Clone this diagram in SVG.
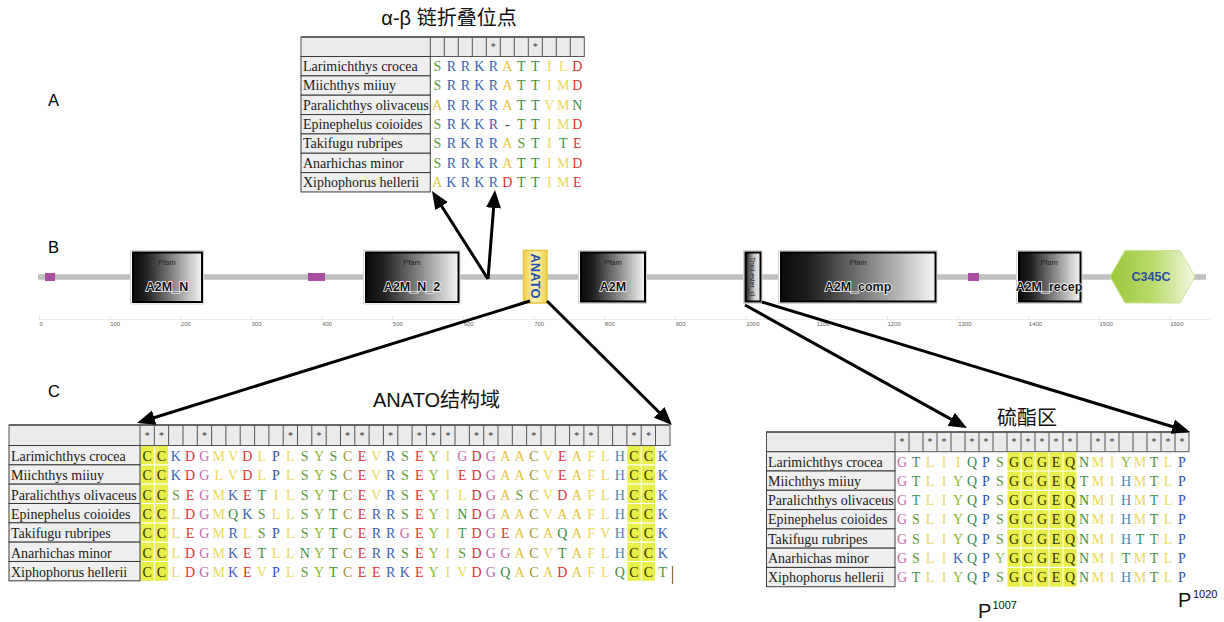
<svg xmlns="http://www.w3.org/2000/svg" width="1224" height="622" viewBox="0 0 1224 622">
<style>
.nm{font-family:"Liberation Serif",serif;font-size:14px;fill:#1a1a1a}
.aa{font-family:"Liberation Serif",serif;font-size:14px;text-anchor:middle}
.st{font-family:"Liberation Serif",serif;font-size:10px;fill:#333;text-anchor:middle}
.ttl{font-family:"Liberation Sans","Noto Sans CJK SC",sans-serif;font-size:20px;fill:#111}
.lbl{font-family:"Liberation Sans",sans-serif;font-size:16.5px;fill:#000}
.pf{font-family:"Liberation Sans",sans-serif;font-size:7.5px;fill:#222;text-anchor:middle}
.dn{font-family:"Liberation Sans",sans-serif;font-size:12.5px;font-weight:bold;fill:#111;text-anchor:middle;stroke:#fff;stroke-width:1.5;paint-order:stroke}
.ax{font-family:"Liberation Sans",sans-serif;font-size:6px;fill:#666}
.ncell{fill:#efefef;stroke:#3a3a3a;stroke-width:1}
.hcell{fill:#ebebeb;stroke:#555;stroke-width:1}
.sep{stroke:#555;stroke-width:1;fill:none}
.wsep{stroke:#fff;stroke-width:1.2;fill:none}
.hl{fill:#e8ee4a}
.outer{fill:#fff;stroke:#d4d4d4;stroke-width:1}
.inner{fill:url(#dg);stroke:#000;stroke-width:2}
.conn{stroke:#000;stroke-width:3;fill:none;marker-end:url(#ah)}
.A{fill:#e4c43c}.V,.I,.L,.M,.F{fill:#ecd85a}
.S{fill:#5e9a3c}.T{fill:#3f8f3f}.N{fill:#3a9040}.Q{fill:#3a8a4c}
.R,.K{fill:#3b5fb5}.P{fill:#3050b0}.D,.E{fill:#e03232}.G{fill:#c468a8}
.C{fill:#a09030}.Y{fill:#8cba30}.H{fill:#4a86a8}.gp{fill:#444}.h{fill:#333300}
</style>
<defs>
<linearGradient id="dg" x1="0" x2="1" y1="0" y2="0"><stop offset="0" stop-color="#0a0a0a"/><stop offset="0.2" stop-color="#222"/><stop offset="1" stop-color="#f6f6f6"/></linearGradient>
<linearGradient id="ag" x1="0" x2="1" y1="0" y2="0"><stop offset="0" stop-color="#f0cf48"/><stop offset="0.5" stop-color="#fff4b8"/><stop offset="1" stop-color="#f0cf48"/></linearGradient>
<linearGradient id="cg" x1="0" x2="1" y1="0" y2="0"><stop offset="0" stop-color="#9ac838"/><stop offset="0.5" stop-color="#b8da6a"/><stop offset="1" stop-color="#f2f8e2"/></linearGradient>
<linearGradient id="tg" x1="0" x2="1" y1="0" y2="0"><stop offset="0" stop-color="#111"/><stop offset="0.6" stop-color="#cfcfcf"/><stop offset="1" stop-color="#eee"/></linearGradient>
<marker id="ah" markerUnits="userSpaceOnUse" markerWidth="18" markerHeight="15" refX="13" refY="7.5" orient="auto"><path d="M0 0L18 7.5L0 15Z" fill="#000"/></marker>
</defs>
<rect width="1224" height="622" fill="#fff"/>

<text class="lbl" x="48" y="106">A</text>
<text class="lbl" x="48" y="253">B</text>
<text class="lbl" x="48" y="397">C</text>

<g id="axis">
<path d="M39 319.5H1210" stroke="#ececec" stroke-width="1"/>
<path d="M39.5 316V320M110.2 316V320M180.8 316V320M251.5 316V320M322.2 316V320M392.8 316V320M463.5 316V320M534.2 316V320M604.8 316V320M675.5 316V320M746.2 316V320M816.8 316V320M887.5 316V320M958.2 316V320M1028.8 316V320M1099.5 316V320M1170.2 316V320" stroke="#e2e2e2" stroke-width="1"/>
<text class="ax" y="326"><tspan x="39.5">0</tspan><tspan x="110.2">100</tspan><tspan x="180.8">200</tspan><tspan x="251.5">300</tspan><tspan x="322.2">400</tspan><tspan x="392.8">500</tspan><tspan x="463.5">600</tspan><tspan x="534.2">700</tspan><tspan x="604.8">800</tspan><tspan x="675.5">900</tspan><tspan x="746.2">1000</tspan><tspan x="816.8">1100</tspan><tspan x="887.5">1200</tspan><tspan x="958.2">1300</tspan><tspan x="1028.8">1400</tspan><tspan x="1099.5">1500</tspan><tspan x="1170.2">1600</tspan></text>
</g>

<g id="backbone">
<path d="M38 277H1206" stroke="#bfbfbf" stroke-width="5.5"/>
<rect x="45" y="273" width="10" height="8" fill="#a8509f"/>
<rect x="308" y="273" width="17" height="8" fill="#a8509f"/>
<rect x="968" y="273" width="11" height="8" fill="#a8509f"/>
</g>

<g id="domain-A2M_N">
<rect class="outer" x="130.5" y="250.5" width="73" height="53.5"/>
<rect class="inner" x="133" y="252.5" width="69" height="49.5"/>
<text class="pf" x="167" y="265">Pfam</text>
<text class="dn" x="167" y="291">A2M_N</text>
</g>
<g id="domain-A2M_N_2">
<rect class="outer" x="363.5" y="250.5" width="96.5" height="53.5"/>
<rect class="inner" x="366" y="252.5" width="92.5" height="49.5"/>
<text class="pf" x="412" y="265">Pfam</text>
<text class="dn" x="412" y="291">A2M_N_2</text>
</g>
<g id="domain-ANATO">
<rect x="523.5" y="250.5" width="23.5" height="52.5" fill="url(#ag)" stroke="#e6c440" stroke-width="1.5"/>
<text transform="translate(530.5 276) rotate(90)" text-anchor="middle" font-family="Liberation Sans, sans-serif" font-size="13" font-weight="bold" fill="#2050b0">ANATO</text>
</g>
<g id="domain-A2M">
<rect class="outer" x="578.5" y="250.5" width="68" height="53"/>
<rect class="inner" x="581" y="252.5" width="64" height="49"/>
<text class="pf" x="613" y="265">Pfam</text>
<text class="dn" x="613" y="291">A2M</text>
</g>
<g id="domain-Thiol-ester_cl">
<rect class="outer" x="743.5" y="250.5" width="18.5" height="53"/>
<rect x="745.5" y="252.5" width="15" height="49" fill="url(#tg)" stroke="#000" stroke-width="2"/>
<text transform="translate(750 276.5) rotate(90)" text-anchor="middle" font-family="Liberation Sans, sans-serif" font-size="6.5" fill="#111">Thiol-ester_cl</text>
</g>
<g id="domain-A2M_comp">
<rect class="outer" x="778.5" y="250.5" width="158.5" height="53"/>
<rect class="inner" x="781" y="252.5" width="154.5" height="49"/>
<text class="pf" x="858" y="265">Pfam</text>
<text class="dn" x="858" y="291">A2M_comp</text>
</g>
<g id="domain-A2M_recep">
<rect class="outer" x="1016.5" y="250.5" width="65.5" height="53"/>
<rect class="inner" x="1019" y="252.5" width="61.5" height="49"/>
<text class="pf" x="1049" y="265">Pfam</text>
<text class="dn" x="1049" y="291">A2M_recep</text>
</g>
<g id="domain-C345C">
<polygon points="1110,276.5 1125,250.5 1180,250.5 1195,276.5 1180,303 1125,303" fill="url(#cg)" stroke="#cde39a" stroke-width="1"/>
<text x="1151" y="281" text-anchor="middle" font-family="Liberation Sans, sans-serif" font-size="12.5" font-weight="bold" fill="#2a4aa0">C345C</text>
</g>

<g id="table-alpha-beta">
<text class="ttl" x="449" y="25" text-anchor="middle">α-β 链折叠位点</text>
<rect class="hcell" x="301" y="37" width="283.3" height="19.5"/>
<path d="M301 37H584.3" stroke="#666" stroke-width="2"/>
<path class="sep" d="M430.3 37V56.5M444.3 37V56.5M458.3 37V56.5M472.3 37V56.5M486.3 37V56.5M500.3 37V56.5M514.3 37V56.5M528.3 37V56.5M542.3 37V56.5M556.3 37V56.5M570.3 37V56.5"/>
<text class="st" x="493.3 535.3" y="50">**</text>
<rect class="ncell" x="301" y="56.5" width="129.3" height="19.35"/>
<rect class="ncell" x="301" y="75.85" width="129.3" height="19.35"/>
<rect class="ncell" x="301" y="95.2" width="129.3" height="19.35"/>
<rect class="ncell" x="301" y="114.55" width="129.3" height="19.35"/>
<rect class="ncell" x="301" y="133.9" width="129.3" height="19.35"/>
<rect class="ncell" x="301" y="153.25" width="129.3" height="19.35"/>
<rect class="ncell" x="301" y="172.6" width="129.3" height="19.35"/>
<text class="nm" x="303" y="71">Larimichthys crocea</text>
<text class="nm" x="303" y="90.35">Miichthys miiuy</text>
<text class="nm" x="303" y="109.7">Paralichthys olivaceus</text>
<text class="nm" x="303" y="129.05">Epinephelus coioides</text>
<text class="nm" x="303" y="148.4">Takifugu rubripes</text>
<text class="nm" x="303" y="167.75">Anarhichas minor</text>
<text class="nm" x="303" y="187.1">Xiphophorus hellerii</text>
<text class="aa" y="71" x="437.3 451.3 465.3 479.3 493.3 507.3 521.3 535.3 549.3 563.3 577.3"><tspan class="S">S</tspan><tspan class="R">R</tspan><tspan class="R">R</tspan><tspan class="K">K</tspan><tspan class="R">R</tspan><tspan class="A">A</tspan><tspan class="T">T</tspan><tspan class="T">T</tspan><tspan class="I">I</tspan><tspan class="L">L</tspan><tspan class="D">D</tspan></text>
<text class="aa" y="90.35" x="437.3 451.3 465.3 479.3 493.3 507.3 521.3 535.3 549.3 563.3 577.3"><tspan class="S">S</tspan><tspan class="R">R</tspan><tspan class="R">R</tspan><tspan class="K">K</tspan><tspan class="R">R</tspan><tspan class="A">A</tspan><tspan class="T">T</tspan><tspan class="T">T</tspan><tspan class="I">I</tspan><tspan class="M">M</tspan><tspan class="D">D</tspan></text>
<text class="aa" y="109.7" x="437.3 451.3 465.3 479.3 493.3 507.3 521.3 535.3 549.3 563.3 577.3"><tspan class="A">A</tspan><tspan class="R">R</tspan><tspan class="R">R</tspan><tspan class="K">K</tspan><tspan class="R">R</tspan><tspan class="A">A</tspan><tspan class="T">T</tspan><tspan class="T">T</tspan><tspan class="V">V</tspan><tspan class="M">M</tspan><tspan class="N">N</tspan></text>
<text class="aa" y="129.05" x="437.3 451.3 465.3 479.3 493.3 507.3 521.3 535.3 549.3 563.3 577.3"><tspan class="S">S</tspan><tspan class="R">R</tspan><tspan class="K">K</tspan><tspan class="K">K</tspan><tspan class="R">R</tspan><tspan class="gp">-</tspan><tspan class="T">T</tspan><tspan class="T">T</tspan><tspan class="I">I</tspan><tspan class="M">M</tspan><tspan class="D">D</tspan></text>
<text class="aa" y="148.4" x="437.3 451.3 465.3 479.3 493.3 507.3 521.3 535.3 549.3 563.3 577.3"><tspan class="S">S</tspan><tspan class="R">R</tspan><tspan class="K">K</tspan><tspan class="R">R</tspan><tspan class="R">R</tspan><tspan class="A">A</tspan><tspan class="S">S</tspan><tspan class="T">T</tspan><tspan class="I">I</tspan><tspan class="T">T</tspan><tspan class="E">E</tspan></text>
<text class="aa" y="167.75" x="437.3 451.3 465.3 479.3 493.3 507.3 521.3 535.3 549.3 563.3 577.3"><tspan class="S">S</tspan><tspan class="R">R</tspan><tspan class="R">R</tspan><tspan class="K">K</tspan><tspan class="R">R</tspan><tspan class="A">A</tspan><tspan class="T">T</tspan><tspan class="T">T</tspan><tspan class="I">I</tspan><tspan class="M">M</tspan><tspan class="D">D</tspan></text>
<text class="aa" y="187.1" x="437.3 451.3 465.3 479.3 493.3 507.3 521.3 535.3 549.3 563.3 577.3"><tspan class="A">A</tspan><tspan class="K">K</tspan><tspan class="R">R</tspan><tspan class="K">K</tspan><tspan class="R">R</tspan><tspan class="D">D</tspan><tspan class="T">T</tspan><tspan class="T">T</tspan><tspan class="I">I</tspan><tspan class="M">M</tspan><tspan class="E">E</tspan></text>
</g>

<g id="table-anato">
<text class="ttl" x="373" y="406.5">ANATO结构域</text>
<rect class="hcell" x="9" y="425" width="661" height="20.5"/>
<path d="M9 425H670" stroke="#666" stroke-width="2"/>
<path class="sep" d="M140 425V445.5M154.3 425V445.5M168.6 425V445.5M183 425V445.5M197.3 425V445.5M211.6 425V445.5M225.9 425V445.5M240.2 425V445.5M254.6 425V445.5M268.9 425V445.5M283.2 425V445.5M297.5 425V445.5M311.8 425V445.5M326.2 425V445.5M340.5 425V445.5M354.8 425V445.5M369.1 425V445.5M383.4 425V445.5M397.8 425V445.5M412.1 425V445.5M426.4 425V445.5M440.7 425V445.5M455 425V445.5M469.4 425V445.5M483.7 425V445.5M498 425V445.5M512.3 425V445.5M526.6 425V445.5M541 425V445.5M555.3 425V445.5M569.6 425V445.5M583.9 425V445.5M598.2 425V445.5M612.6 425V445.5M626.9 425V445.5M641.2 425V445.5M655.5 425V445.5"/>
<text class="st" y="438.5" x="147.2 161.5 204.4 290.4 319 347.6 362 390.6 419.2 433.6 447.9 476.5 490.8 533.8 576.8 591.1 634 648.4">******************</text>
<rect class="hl" x="140.5" y="446" width="13.3" height="134.8"/>
<rect class="hl" x="154.8" y="446" width="13.3" height="134.8"/>
<rect class="hl" x="627.4" y="446" width="13.3" height="134.8"/>
<rect class="hl" x="641.7" y="446" width="13.3" height="134.8"/>
<path class="wsep" d="M140 464.8H670M140 484.2H670M140 503.5H670M140 522.8H670M140 542.2H670M140 561.5H670"/>
<path d="M672.5 566V584" stroke="#8a6a3a" stroke-width="1.2"/>
<rect class="ncell" x="9" y="445.5" width="131" height="19.33"/>
<rect class="ncell" x="9" y="464.83" width="131" height="19.33"/>
<rect class="ncell" x="9" y="484.16" width="131" height="19.33"/>
<rect class="ncell" x="9" y="503.49" width="131" height="19.33"/>
<rect class="ncell" x="9" y="522.82" width="131" height="19.33"/>
<rect class="ncell" x="9" y="542.15" width="131" height="19.33"/>
<rect class="ncell" x="9" y="561.48" width="131" height="19.33"/>
<text class="nm" x="11" y="460.8">Larimichthys crocea</text>
<text class="nm" x="11" y="480.1">Miichthys miiuy</text>
<text class="nm" x="11" y="499.5">Paralichthys olivaceus</text>
<text class="nm" x="11" y="518.8">Epinephelus coioides</text>
<text class="nm" x="11" y="538.1">Takifugu rubripes</text>
<text class="nm" x="11" y="557.5">Anarhichas minor</text>
<text class="nm" x="11" y="576.8">Xiphophorus hellerii</text>
<text class="aa" y="460.8" x="147.2 161.5 175.8 190.1 204.4 218.8 233.1 247.4 261.7 276 290.4 304.7 319 333.3 347.6 362 376.3 390.6 404.9 419.2 433.6 447.9 462.2 476.5 490.8 505.2 519.5 533.8 548.1 562.4 576.8 591.1 605.4 619.7 634 648.4 662.7"><tspan class="h">C</tspan><tspan class="h">C</tspan><tspan class="K">K</tspan><tspan class="D">D</tspan><tspan class="G">G</tspan><tspan class="M">M</tspan><tspan class="V">V</tspan><tspan class="D">D</tspan><tspan class="L">L</tspan><tspan class="P">P</tspan><tspan class="L">L</tspan><tspan class="S">S</tspan><tspan class="Y">Y</tspan><tspan class="S">S</tspan><tspan class="C">C</tspan><tspan class="E">E</tspan><tspan class="V">V</tspan><tspan class="R">R</tspan><tspan class="S">S</tspan><tspan class="E">E</tspan><tspan class="Y">Y</tspan><tspan class="I">I</tspan><tspan class="G">G</tspan><tspan class="D">D</tspan><tspan class="G">G</tspan><tspan class="A">A</tspan><tspan class="A">A</tspan><tspan class="C">C</tspan><tspan class="V">V</tspan><tspan class="E">E</tspan><tspan class="A">A</tspan><tspan class="F">F</tspan><tspan class="L">L</tspan><tspan class="H">H</tspan><tspan class="h">C</tspan><tspan class="h">C</tspan><tspan class="K">K</tspan></text>
<text class="aa" y="480.1" x="147.2 161.5 175.8 190.1 204.4 218.8 233.1 247.4 261.7 276 290.4 304.7 319 333.3 347.6 362 376.3 390.6 404.9 419.2 433.6 447.9 462.2 476.5 490.8 505.2 519.5 533.8 548.1 562.4 576.8 591.1 605.4 619.7 634 648.4 662.7"><tspan class="h">C</tspan><tspan class="h">C</tspan><tspan class="K">K</tspan><tspan class="D">D</tspan><tspan class="G">G</tspan><tspan class="L">L</tspan><tspan class="V">V</tspan><tspan class="D">D</tspan><tspan class="L">L</tspan><tspan class="P">P</tspan><tspan class="L">L</tspan><tspan class="S">S</tspan><tspan class="Y">Y</tspan><tspan class="S">S</tspan><tspan class="C">C</tspan><tspan class="E">E</tspan><tspan class="V">V</tspan><tspan class="R">R</tspan><tspan class="S">S</tspan><tspan class="E">E</tspan><tspan class="Y">Y</tspan><tspan class="I">I</tspan><tspan class="E">E</tspan><tspan class="D">D</tspan><tspan class="G">G</tspan><tspan class="A">A</tspan><tspan class="A">A</tspan><tspan class="C">C</tspan><tspan class="V">V</tspan><tspan class="E">E</tspan><tspan class="A">A</tspan><tspan class="F">F</tspan><tspan class="L">L</tspan><tspan class="H">H</tspan><tspan class="h">C</tspan><tspan class="h">C</tspan><tspan class="K">K</tspan></text>
<text class="aa" y="499.5" x="147.2 161.5 175.8 190.1 204.4 218.8 233.1 247.4 261.7 276 290.4 304.7 319 333.3 347.6 362 376.3 390.6 404.9 419.2 433.6 447.9 462.2 476.5 490.8 505.2 519.5 533.8 548.1 562.4 576.8 591.1 605.4 619.7 634 648.4 662.7"><tspan class="h">C</tspan><tspan class="h">C</tspan><tspan class="S">S</tspan><tspan class="E">E</tspan><tspan class="G">G</tspan><tspan class="M">M</tspan><tspan class="K">K</tspan><tspan class="E">E</tspan><tspan class="T">T</tspan><tspan class="I">I</tspan><tspan class="L">L</tspan><tspan class="S">S</tspan><tspan class="Y">Y</tspan><tspan class="T">T</tspan><tspan class="C">C</tspan><tspan class="E">E</tspan><tspan class="V">V</tspan><tspan class="R">R</tspan><tspan class="S">S</tspan><tspan class="E">E</tspan><tspan class="Y">Y</tspan><tspan class="I">I</tspan><tspan class="L">L</tspan><tspan class="D">D</tspan><tspan class="G">G</tspan><tspan class="A">A</tspan><tspan class="S">S</tspan><tspan class="C">C</tspan><tspan class="V">V</tspan><tspan class="D">D</tspan><tspan class="A">A</tspan><tspan class="F">F</tspan><tspan class="L">L</tspan><tspan class="H">H</tspan><tspan class="h">C</tspan><tspan class="h">C</tspan><tspan class="K">K</tspan></text>
<text class="aa" y="518.8" x="147.2 161.5 175.8 190.1 204.4 218.8 233.1 247.4 261.7 276 290.4 304.7 319 333.3 347.6 362 376.3 390.6 404.9 419.2 433.6 447.9 462.2 476.5 490.8 505.2 519.5 533.8 548.1 562.4 576.8 591.1 605.4 619.7 634 648.4 662.7"><tspan class="h">C</tspan><tspan class="h">C</tspan><tspan class="L">L</tspan><tspan class="D">D</tspan><tspan class="G">G</tspan><tspan class="M">M</tspan><tspan class="Q">Q</tspan><tspan class="K">K</tspan><tspan class="S">S</tspan><tspan class="L">L</tspan><tspan class="L">L</tspan><tspan class="S">S</tspan><tspan class="Y">Y</tspan><tspan class="T">T</tspan><tspan class="C">C</tspan><tspan class="E">E</tspan><tspan class="R">R</tspan><tspan class="R">R</tspan><tspan class="S">S</tspan><tspan class="E">E</tspan><tspan class="Y">Y</tspan><tspan class="I">I</tspan><tspan class="N">N</tspan><tspan class="D">D</tspan><tspan class="G">G</tspan><tspan class="A">A</tspan><tspan class="A">A</tspan><tspan class="C">C</tspan><tspan class="V">V</tspan><tspan class="A">A</tspan><tspan class="A">A</tspan><tspan class="F">F</tspan><tspan class="L">L</tspan><tspan class="H">H</tspan><tspan class="h">C</tspan><tspan class="h">C</tspan><tspan class="K">K</tspan></text>
<text class="aa" y="538.1" x="147.2 161.5 175.8 190.1 204.4 218.8 233.1 247.4 261.7 276 290.4 304.7 319 333.3 347.6 362 376.3 390.6 404.9 419.2 433.6 447.9 462.2 476.5 490.8 505.2 519.5 533.8 548.1 562.4 576.8 591.1 605.4 619.7 634 648.4 662.7"><tspan class="h">C</tspan><tspan class="h">C</tspan><tspan class="L">L</tspan><tspan class="E">E</tspan><tspan class="G">G</tspan><tspan class="M">M</tspan><tspan class="R">R</tspan><tspan class="L">L</tspan><tspan class="S">S</tspan><tspan class="P">P</tspan><tspan class="L">L</tspan><tspan class="S">S</tspan><tspan class="Y">Y</tspan><tspan class="T">T</tspan><tspan class="C">C</tspan><tspan class="E">E</tspan><tspan class="R">R</tspan><tspan class="R">R</tspan><tspan class="G">G</tspan><tspan class="E">E</tspan><tspan class="Y">Y</tspan><tspan class="I">I</tspan><tspan class="T">T</tspan><tspan class="D">D</tspan><tspan class="G">G</tspan><tspan class="E">E</tspan><tspan class="A">A</tspan><tspan class="C">C</tspan><tspan class="A">A</tspan><tspan class="Q">Q</tspan><tspan class="A">A</tspan><tspan class="F">F</tspan><tspan class="V">V</tspan><tspan class="H">H</tspan><tspan class="h">C</tspan><tspan class="h">C</tspan><tspan class="K">K</tspan></text>
<text class="aa" y="557.5" x="147.2 161.5 175.8 190.1 204.4 218.8 233.1 247.4 261.7 276 290.4 304.7 319 333.3 347.6 362 376.3 390.6 404.9 419.2 433.6 447.9 462.2 476.5 490.8 505.2 519.5 533.8 548.1 562.4 576.8 591.1 605.4 619.7 634 648.4 662.7"><tspan class="h">C</tspan><tspan class="h">C</tspan><tspan class="L">L</tspan><tspan class="D">D</tspan><tspan class="G">G</tspan><tspan class="M">M</tspan><tspan class="K">K</tspan><tspan class="E">E</tspan><tspan class="T">T</tspan><tspan class="L">L</tspan><tspan class="L">L</tspan><tspan class="N">N</tspan><tspan class="Y">Y</tspan><tspan class="T">T</tspan><tspan class="C">C</tspan><tspan class="E">E</tspan><tspan class="R">R</tspan><tspan class="R">R</tspan><tspan class="S">S</tspan><tspan class="E">E</tspan><tspan class="Y">Y</tspan><tspan class="I">I</tspan><tspan class="S">S</tspan><tspan class="D">D</tspan><tspan class="G">G</tspan><tspan class="G">G</tspan><tspan class="A">A</tspan><tspan class="C">C</tspan><tspan class="V">V</tspan><tspan class="T">T</tspan><tspan class="A">A</tspan><tspan class="F">F</tspan><tspan class="L">L</tspan><tspan class="H">H</tspan><tspan class="h">C</tspan><tspan class="h">C</tspan><tspan class="K">K</tspan></text>
<text class="aa" y="576.8" x="147.2 161.5 175.8 190.1 204.4 218.8 233.1 247.4 261.7 276 290.4 304.7 319 333.3 347.6 362 376.3 390.6 404.9 419.2 433.6 447.9 462.2 476.5 490.8 505.2 519.5 533.8 548.1 562.4 576.8 591.1 605.4 619.7 634 648.4 662.7"><tspan class="h">C</tspan><tspan class="h">C</tspan><tspan class="L">L</tspan><tspan class="D">D</tspan><tspan class="G">G</tspan><tspan class="M">M</tspan><tspan class="K">K</tspan><tspan class="E">E</tspan><tspan class="V">V</tspan><tspan class="P">P</tspan><tspan class="L">L</tspan><tspan class="S">S</tspan><tspan class="Y">Y</tspan><tspan class="T">T</tspan><tspan class="C">C</tspan><tspan class="E">E</tspan><tspan class="E">E</tspan><tspan class="R">R</tspan><tspan class="K">K</tspan><tspan class="E">E</tspan><tspan class="Y">Y</tspan><tspan class="I">I</tspan><tspan class="V">V</tspan><tspan class="D">D</tspan><tspan class="G">G</tspan><tspan class="Q">Q</tspan><tspan class="A">A</tspan><tspan class="C">C</tspan><tspan class="A">A</tspan><tspan class="D">D</tspan><tspan class="A">A</tspan><tspan class="F">F</tspan><tspan class="L">L</tspan><tspan class="Q">Q</tspan><tspan class="h">C</tspan><tspan class="h">C</tspan><tspan class="T">T</tspan></text>
</g>

<g id="table-thioester">
<text class="ttl" x="1027" y="425" text-anchor="middle">硫酯区</text>
<rect class="hcell" x="766.5" y="432" width="422.5" height="19.7"/>
<path d="M766.5 432H1189" stroke="#666" stroke-width="2"/>
<path class="sep" d="M895 432V451.7M909 432V451.7M923 432V451.7M937 432V451.7M951 432V451.7M965 432V451.7M979 432V451.7M993 432V451.7M1007 432V451.7M1021 432V451.7M1035 432V451.7M1049 432V451.7M1063 432V451.7M1077 432V451.7M1091 432V451.7M1105 432V451.7M1119 432V451.7M1133 432V451.7M1147 432V451.7M1161 432V451.7M1175 432V451.7"/>
<text class="st" y="444.5" x="902 930 944 972 986 1014 1028 1042 1056 1070 1098 1112 1154 1168 1182">***************</text>
<rect class="hl" x="1007.5" y="452.2" width="13" height="134.5"/>
<rect class="hl" x="1021.5" y="452.2" width="13" height="134.5"/>
<rect class="hl" x="1035.5" y="452.2" width="13" height="134.5"/>
<rect class="hl" x="1049.5" y="452.2" width="13" height="134.5"/>
<rect class="hl" x="1063.5" y="452.2" width="13" height="134.5"/>
<path class="wsep" d="M895 471H1189M895 490.3H1189M895 509.6H1189M895 528.9H1189M895 548.2H1189M895 567.4H1189"/>
<rect class="ncell" x="766.5" y="451.7" width="128.5" height="19.29"/>
<rect class="ncell" x="766.5" y="470.99" width="128.5" height="19.29"/>
<rect class="ncell" x="766.5" y="490.28" width="128.5" height="19.29"/>
<rect class="ncell" x="766.5" y="509.57" width="128.5" height="19.29"/>
<rect class="ncell" x="766.5" y="528.86" width="128.5" height="19.29"/>
<rect class="ncell" x="766.5" y="548.15" width="128.5" height="19.29"/>
<rect class="ncell" x="766.5" y="567.44" width="128.5" height="19.29"/>
<text class="nm" x="768" y="466.5">Larimichthys crocea</text>
<text class="nm" x="768" y="485.8">Miichthys miiuy</text>
<text class="nm" x="768" y="505.1">Paralichthys olivaceus</text>
<text class="nm" x="768" y="524.4">Epinephelus coioides</text>
<text class="nm" x="768" y="543.7">Takifugu rubripes</text>
<text class="nm" x="768" y="563">Anarhichas minor</text>
<text class="nm" x="768" y="582.3">Xiphophorus hellerii</text>
<text class="aa" y="466.5" x="902 916 930 944 958 972 986 1000 1014 1028 1042 1056 1070 1084 1098 1112 1126 1140 1154 1168 1182"><tspan class="G">G</tspan><tspan class="T">T</tspan><tspan class="L">L</tspan><tspan class="I">I</tspan><tspan class="I">I</tspan><tspan class="Q">Q</tspan><tspan class="P">P</tspan><tspan class="S">S</tspan><tspan class="h">G</tspan><tspan class="h">C</tspan><tspan class="h">G</tspan><tspan class="h">E</tspan><tspan class="h">Q</tspan><tspan class="N">N</tspan><tspan class="M">M</tspan><tspan class="I">I</tspan><tspan class="Y">Y</tspan><tspan class="M">M</tspan><tspan class="T">T</tspan><tspan class="L">L</tspan><tspan class="P">P</tspan></text>
<text class="aa" y="485.8" x="902 916 930 944 958 972 986 1000 1014 1028 1042 1056 1070 1084 1098 1112 1126 1140 1154 1168 1182"><tspan class="G">G</tspan><tspan class="T">T</tspan><tspan class="L">L</tspan><tspan class="I">I</tspan><tspan class="Y">Y</tspan><tspan class="Q">Q</tspan><tspan class="P">P</tspan><tspan class="S">S</tspan><tspan class="h">G</tspan><tspan class="h">C</tspan><tspan class="h">G</tspan><tspan class="h">E</tspan><tspan class="h">Q</tspan><tspan class="T">T</tspan><tspan class="M">M</tspan><tspan class="I">I</tspan><tspan class="H">H</tspan><tspan class="M">M</tspan><tspan class="T">T</tspan><tspan class="L">L</tspan><tspan class="P">P</tspan></text>
<text class="aa" y="505.1" x="902 916 930 944 958 972 986 1000 1014 1028 1042 1056 1070 1084 1098 1112 1126 1140 1154 1168 1182"><tspan class="G">G</tspan><tspan class="T">T</tspan><tspan class="L">L</tspan><tspan class="I">I</tspan><tspan class="Y">Y</tspan><tspan class="Q">Q</tspan><tspan class="P">P</tspan><tspan class="S">S</tspan><tspan class="h">G</tspan><tspan class="h">C</tspan><tspan class="h">G</tspan><tspan class="h">E</tspan><tspan class="h">Q</tspan><tspan class="N">N</tspan><tspan class="M">M</tspan><tspan class="I">I</tspan><tspan class="H">H</tspan><tspan class="M">M</tspan><tspan class="T">T</tspan><tspan class="L">L</tspan><tspan class="P">P</tspan></text>
<text class="aa" y="524.4" x="902 916 930 944 958 972 986 1000 1014 1028 1042 1056 1070 1084 1098 1112 1126 1140 1154 1168 1182"><tspan class="G">G</tspan><tspan class="S">S</tspan><tspan class="L">L</tspan><tspan class="I">I</tspan><tspan class="Y">Y</tspan><tspan class="Q">Q</tspan><tspan class="P">P</tspan><tspan class="S">S</tspan><tspan class="h">G</tspan><tspan class="h">C</tspan><tspan class="h">G</tspan><tspan class="h">E</tspan><tspan class="h">Q</tspan><tspan class="N">N</tspan><tspan class="M">M</tspan><tspan class="I">I</tspan><tspan class="H">H</tspan><tspan class="M">M</tspan><tspan class="T">T</tspan><tspan class="L">L</tspan><tspan class="P">P</tspan></text>
<text class="aa" y="543.7" x="902 916 930 944 958 972 986 1000 1014 1028 1042 1056 1070 1084 1098 1112 1126 1140 1154 1168 1182"><tspan class="G">G</tspan><tspan class="S">S</tspan><tspan class="L">L</tspan><tspan class="I">I</tspan><tspan class="Y">Y</tspan><tspan class="Q">Q</tspan><tspan class="P">P</tspan><tspan class="S">S</tspan><tspan class="h">G</tspan><tspan class="h">C</tspan><tspan class="h">G</tspan><tspan class="h">E</tspan><tspan class="h">Q</tspan><tspan class="N">N</tspan><tspan class="M">M</tspan><tspan class="I">I</tspan><tspan class="H">H</tspan><tspan class="T">T</tspan><tspan class="T">T</tspan><tspan class="L">L</tspan><tspan class="P">P</tspan></text>
<text class="aa" y="563" x="902 916 930 944 958 972 986 1000 1014 1028 1042 1056 1070 1084 1098 1112 1126 1140 1154 1168 1182"><tspan class="G">G</tspan><tspan class="S">S</tspan><tspan class="L">L</tspan><tspan class="I">I</tspan><tspan class="K">K</tspan><tspan class="Q">Q</tspan><tspan class="P">P</tspan><tspan class="Y">Y</tspan><tspan class="h">G</tspan><tspan class="h">C</tspan><tspan class="h">G</tspan><tspan class="h">E</tspan><tspan class="h">Q</tspan><tspan class="N">N</tspan><tspan class="M">M</tspan><tspan class="I">I</tspan><tspan class="T">T</tspan><tspan class="M">M</tspan><tspan class="T">T</tspan><tspan class="L">L</tspan><tspan class="P">P</tspan></text>
<text class="aa" y="582.3" x="902 916 930 944 958 972 986 1000 1014 1028 1042 1056 1070 1084 1098 1112 1126 1140 1154 1168 1182"><tspan class="G">G</tspan><tspan class="T">T</tspan><tspan class="L">L</tspan><tspan class="I">I</tspan><tspan class="Y">Y</tspan><tspan class="Q">Q</tspan><tspan class="P">P</tspan><tspan class="S">S</tspan><tspan class="h">G</tspan><tspan class="h">C</tspan><tspan class="h">G</tspan><tspan class="h">E</tspan><tspan class="h">Q</tspan><tspan class="N">N</tspan><tspan class="M">M</tspan><tspan class="I">I</tspan><tspan class="H">H</tspan><tspan class="M">M</tspan><tspan class="T">T</tspan><tspan class="L">L</tspan><tspan class="P">P</tspan></text>
<text font-family="Liberation Sans, sans-serif" fill="#111"><tspan x="978" y="617.5" font-size="20">P</tspan><tspan x="992.5" y="609" font-size="11">1007</tspan></text>
<text font-family="Liberation Sans, sans-serif" fill="#111"><tspan x="1178" y="606.5" font-size="20">P</tspan><tspan x="1193" y="597.5" font-size="11">1020</tspan></text>
</g>

<g id="connectors">
<path class="conn" d="M488 279L434.7 195.2"/>
<path class="conn" d="M488 279L494.6 195"/>
<path class="conn" d="M530 301L141.8 421.5"/>
<path class="conn" d="M547 301L668.4 421.5"/>
<path class="conn" d="M745 305L962.6 425.6"/>
<path class="conn" d="M762 302L1185.2 430.5"/>
</g>
</svg>
